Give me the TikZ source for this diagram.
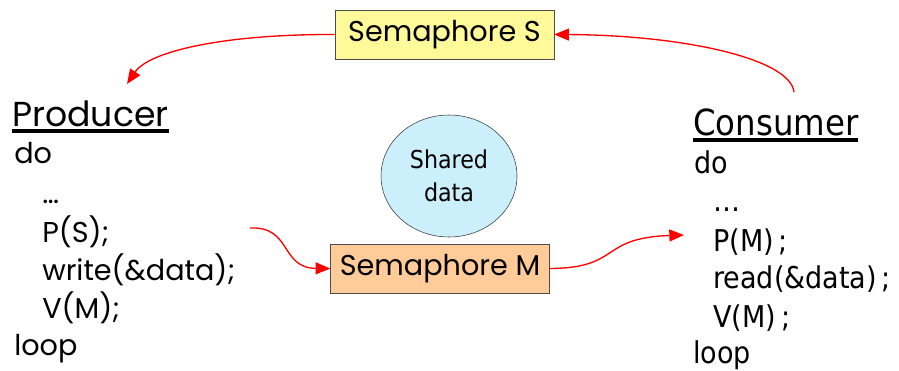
\documentclass[tikz,border=0pt]{standalone}
\usepackage{fontspec}
\setmainfont{Poppins}
\newfontfamily\consfont{DejaVu Sans Condensed}
\usetikzlibrary{arrows.meta, shapes.geometric}

% heading with a heavy underline
\newcommand{\headline}[1]{\setbox0\hbox{#1}\rlap{\vrule height -2.5pt depth 5.5pt width \wd0}\box0}

\begin{document}
\begin{tikzpicture}[x=0.75pt, y=-0.75pt,
                sema/.style={draw=black!70, rectangle, minimum width=164.25pt, minimum height=36.75pt, inner sep=0pt, font=\fontsize{21.5}{24}\selectfont},
                shared/.style={draw=black!80, ellipse, minimum width=102pt, minimum height=91.5pt, inner sep=0pt, fill=cyan!20, align=center, font=\consfont\fontsize{18.5}{25}\selectfont},
                prodtxt/.style={anchor=base west, inner sep=0pt, font=\fontsize{21.5}{24}\selectfont},
                constxt/.style={anchor=base west, inner sep=0pt, font=\consfont\fontsize{22.5}{24}\selectfont},
                link/.style={-{Triangle[length=11pt, width=9pt]}, red, line width=1pt}
            ]
                \useasboundingbox (0,0) rectangle (899,371);

                % Nodes
                \node (semS) [sema, fill=yellow!40] at (444.5,34.5) {Semaphore S};
                \node (semM) [sema, fill=orange!40] at (440,268.5) {Semaphore M};
                \node (data) [shared] at (449,176) {Shared\\data};

                \node (prodHead) [prodtxt, font=\fontsize{26}{28}\selectfont] at (12,126) {\headline{Producer}};
                \node (prodDo) [prodtxt] at (14,163) {do};
                \node (prodDots) [prodtxt] at (42,203) {…};
                \node (prodP) [prodtxt] at (42,242) {P(S);};
                \node (prodWrite) [prodtxt] at (42,280) {write(\&data);};
                \node (prodV) [prodtxt] at (42,318) {V(M);};
                \node (prodLoop) [prodtxt] at (14,355) {loop};

                \node (consHead) [constxt, font=\consfont\fontsize{27}{29}\selectfont] at (693,135) {\headline{Consumer}};
                \node (consDo) [constxt] at (694,173) {do};
                \node (consDots) [constxt] at (713,211) {…};
                \node (consP) [constxt] at (713,251) {P(M)\,;};
                \node (consRead) [constxt] at (713,288) {read(\&data)\,;};
                \node (consV) [constxt] at (713,327) {V(M)\,;};
                \node (consLoop) [constxt] at (693,363) {loop};

                % free ends of the arrows
                \coordinate (prodTip) at (127,84);
                \coordinate (consTail) at (794,92);
                \coordinate (prodTail) at (250,228);
                \coordinate (consTip) at (684,235);

                % Arrows
                \draw [link] (semS.west) .. controls (230,34) and (150,50) .. (prodTip);
                \draw [link] (consTail) .. controls (790,58) and (680,35) .. (semS.east);
                \draw [link] (prodTail) .. controls (292,226) and (280,268) .. (semM.west);
                \draw [link] (semM.east) .. controls (622,268) and (598,238) .. (consTip);
            \end{tikzpicture}
\end{document}
